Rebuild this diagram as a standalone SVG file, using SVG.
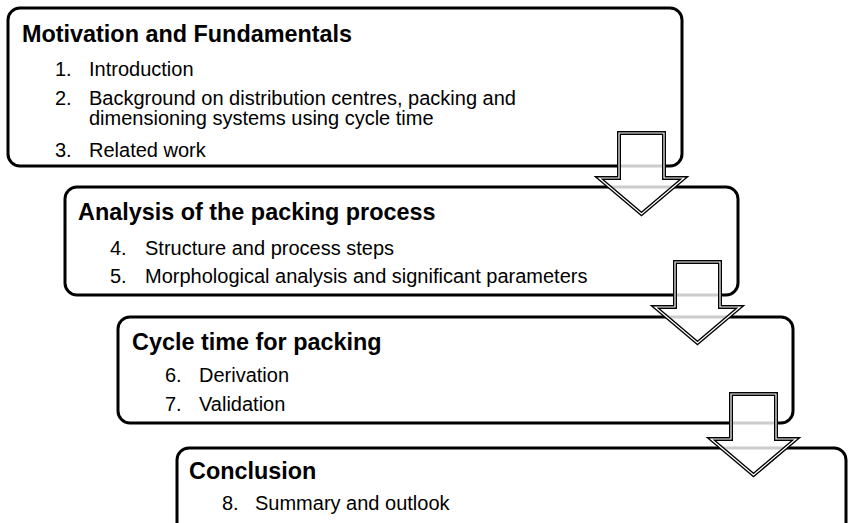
<svg xmlns="http://www.w3.org/2000/svg" width="849" height="523" viewBox="0 0 849 523">
<style>
.box{fill:#fff;stroke:#000;stroke-width:3}
.t{font-family:"Liberation Sans",Arial,sans-serif;font-weight:bold;font-size:23.4px;fill:#000}
.i{font-family:"Liberation Sans",Arial,sans-serif;font-size:20px;fill:#000}
.ao{fill:#fff;fill-opacity:0.8;stroke:#000;stroke-width:4;stroke-linejoin:miter}
.ai{fill:none;stroke:#fff;stroke-width:1.2;stroke-linejoin:miter}
</style>
<defs>
<path id="arr" d="M0,0 H45 V45 H65 L22.5,81 L-20,45 H0 Z"/>
</defs>
<g id="node1">
<rect class="box" x="8" y="8" width="674" height="158" rx="12"/>
<text class="t" x="22" y="42">Motivation and Fundamentals</text>
<text class="i" x="55" y="76">1.</text><text class="i" x="89" y="76">Introduction</text>
<text class="i" x="55" y="105">2.</text><text class="i" x="89" y="105">Background on distribution centres, packing and</text>
<text class="i" x="89" y="125">dimensioning systems using cycle time</text>
<text class="i" x="55" y="157">3.</text><text class="i" x="89" y="157">Related work</text>
</g>
<g id="node2">
<rect class="box" x="65" y="187" width="673" height="108" rx="12"/>
<text class="t" x="78" y="220">Analysis of the packing process</text>
<text class="i" x="110" y="255">4.</text><text class="i" x="145" y="255">Structure and process steps</text>
<text class="i" x="110" y="283">5.</text><text class="i" x="145" y="283">Morphological analysis and significant parameters</text>
</g>
<g id="node3">
<rect class="box" x="118" y="317" width="675" height="106" rx="12"/>
<text class="t" x="132" y="350">Cycle time for packing</text>
<text class="i" x="165" y="382">6.</text><text class="i" x="199" y="382">Derivation</text>
<text class="i" x="165" y="411">7.</text><text class="i" x="199" y="411">Validation</text>
</g>
<g id="node4">
<rect class="box" x="177" y="448" width="669" height="100" rx="12"/>
<text class="t" x="189" y="479">Conclusion</text>
<text class="i" x="222" y="510">8.</text><text class="i" x="255" y="510">Summary and outlook</text>
</g>
<g id="connectors">
<g transform="translate(619,133)"><use href="#arr" class="ao"/><use href="#arr" class="ai"/></g>
<g transform="translate(675,262)"><use href="#arr" class="ao"/><use href="#arr" class="ai"/></g>
<g transform="translate(731,394)"><use href="#arr" class="ao"/><use href="#arr" class="ai"/></g>
</g>
</svg>
